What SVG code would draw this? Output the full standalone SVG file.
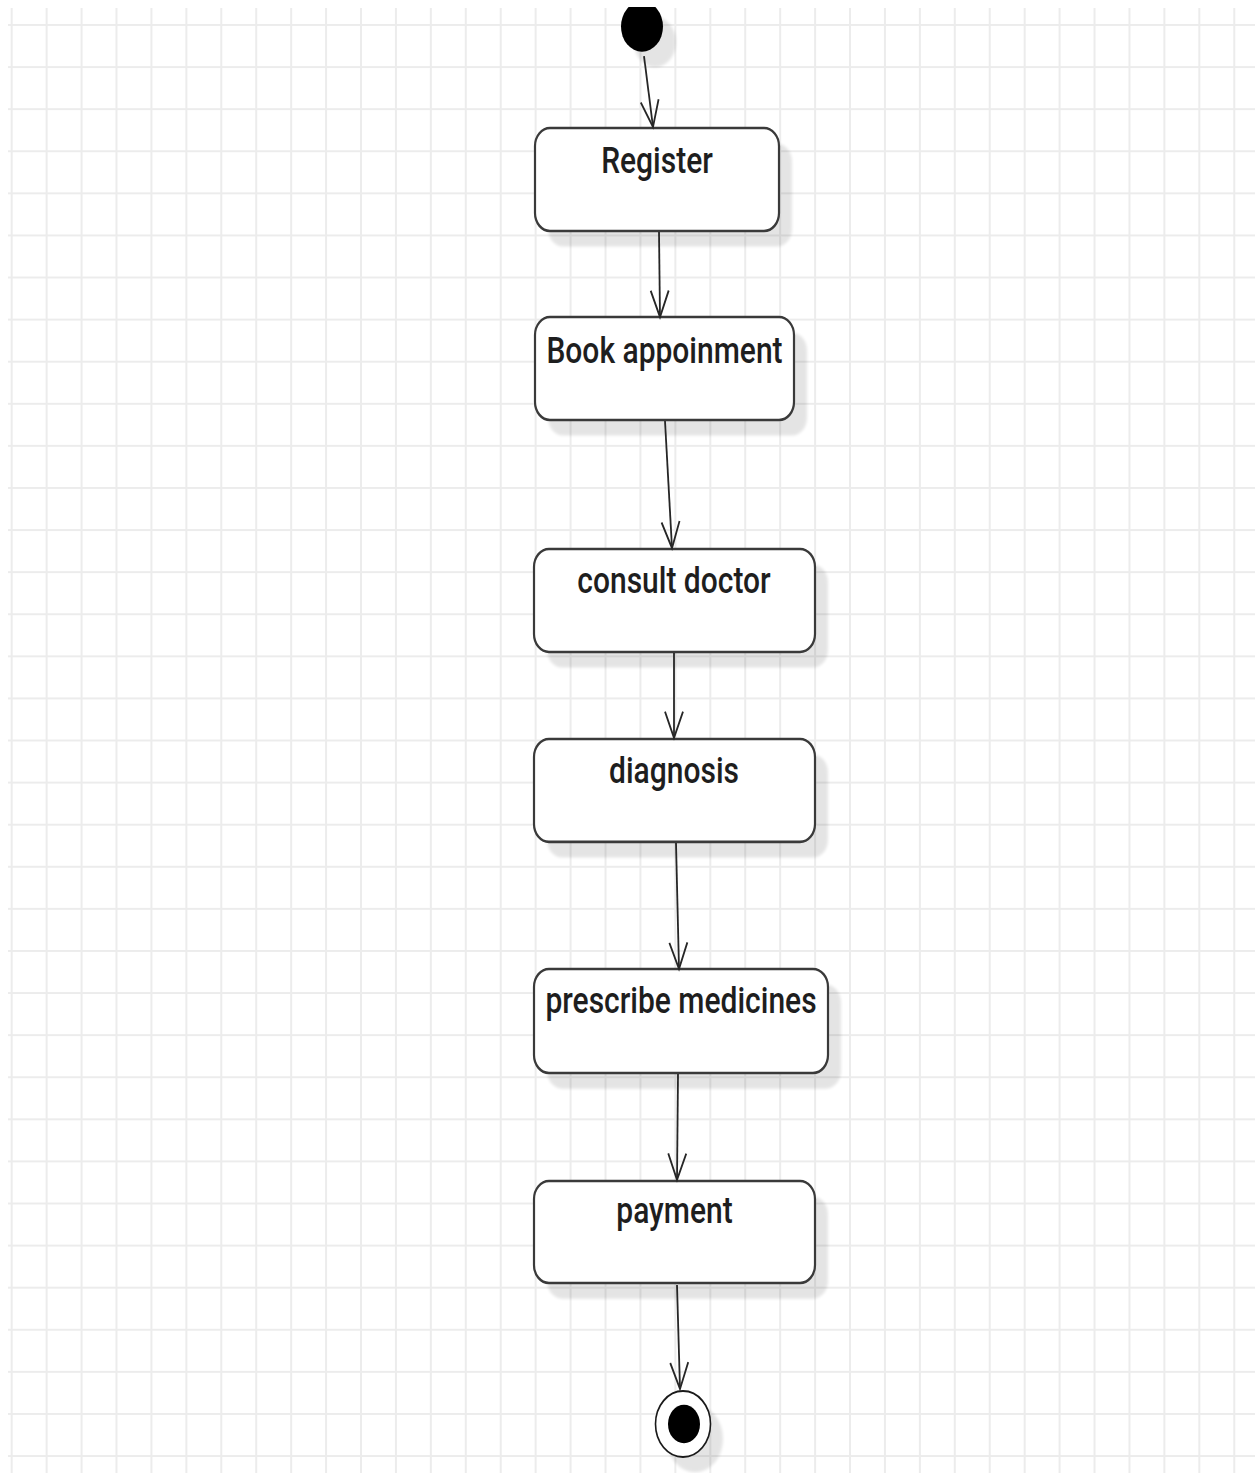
<svg xmlns="http://www.w3.org/2000/svg" width="1255" height="1473" viewBox="0 0 1255 1473">
  <defs>
    <style>
      .node { fill: #ffffff; stroke: #3a3a3a; stroke-width: 2.2; }
      .shadow { fill: #000000; opacity: 0.1; filter: url(#soft); }
      .label { font-family: Roboto, "Liberation Sans", sans-serif; font-size: 30px; font-weight: 500; fill: #1e1e1e; text-anchor: middle; }
      .flow { fill: none; stroke: #262626; stroke-width: 1.8; marker-end: url(#open-arrow); }
    </style>
    <pattern id="grid" patternUnits="userSpaceOnUse" x="10.7" y="24" width="34.93" height="42.09">
      <path d="M1,0 V42.09 M0,1 H34.93" fill="none" stroke="#ececec" stroke-width="2"/>
    </pattern>
    <filter id="soft" x="-20%" y="-20%" width="140%" height="140%">
      <feGaussianBlur stdDeviation="1.5"/>
    </filter>
    <marker id="open-arrow" markerUnits="userSpaceOnUse" orient="auto" refX="0" refY="0" markerWidth="40" markerHeight="40" overflow="visible">
      <path d="M-22,-9 L0,0 L-22,9" fill="none" stroke="#262626" stroke-width="1.8"/>
    </marker>
    <clipPath id="page">
      <rect x="0" y="7" width="1255" height="1466"/>
    </clipPath>
  </defs>

  <rect width="1255" height="1473" fill="#ffffff"/>
  <rect x="8" y="8" width="1247" height="1465" fill="url(#grid)"/>

  <g clip-path="url(#page)">
    <!-- drawing stretched vertically by 1.2 -->
    <g transform="scale(1,1.2)">
      <g id="start">
        <circle class="shadow" cx="655" cy="35" r="21"/>
        <circle cx="642" cy="22.1" r="21" fill="#000000"/>
      </g>

      <g id="register">
        <rect class="shadow" x="548" y="119.7" width="244" height="85.8" rx="15"/>
        <rect class="node" x="535" y="106.7" width="244" height="85.8" rx="15"/>
        <text class="label" x="657" y="144.2">Register</text>
      </g>

      <g id="book-appoinment">
        <rect class="shadow" x="548" y="277.2" width="259" height="85.8" rx="15"/>
        <rect class="node" x="535" y="264.2" width="259" height="85.8" rx="15"/>
        <text class="label" x="664.5" y="302.5">Book appoinment</text>
      </g>

      <g id="consult-doctor">
        <rect class="shadow" x="547" y="470.5" width="281" height="85.8" rx="15"/>
        <rect class="node" x="534" y="457.5" width="281" height="85.8" rx="15"/>
        <text class="label" x="674" y="494.2">consult doctor</text>
      </g>

      <g id="diagnosis">
        <rect class="shadow" x="547" y="628.8" width="281" height="85.8" rx="15"/>
        <rect class="node" x="534" y="615.8" width="281" height="85.8" rx="15"/>
        <text class="label" x="674" y="652.5">diagnosis</text>
      </g>

      <g id="prescribe-medicines">
        <rect class="shadow" x="547" y="820.5" width="294" height="86.7" rx="15"/>
        <rect class="node" x="534" y="807.5" width="294" height="86.7" rx="15"/>
        <text class="label" x="681" y="844.2">prescribe medicines</text>
      </g>

      <g id="payment">
        <rect class="shadow" x="547" y="997.2" width="281" height="85" rx="15"/>
        <rect class="node" x="534" y="984.2" width="281" height="85" rx="15"/>
        <text class="label" x="674.5" y="1019.2">payment</text>
      </g>

      <g id="end">
        <circle class="shadow" cx="695" cy="1199" r="28"/>
        <circle cx="683" cy="1186.7" r="27.5" fill="#ffffff" stroke="#1a1a1a" stroke-width="1.6"/>
        <circle cx="684" cy="1186.7" r="16" fill="#000000"/>
      </g>

      <g id="connectors">
        <path class="flow" d="M644,46.7 L653,105.8"/>
        <path class="flow" d="M659,193.3 L660,264.2"/>
        <path class="flow" d="M665,350.8 L672,456.7"/>
        <path class="flow" d="M674,544.2 L674,615"/>
        <path class="flow" d="M676,702.5 L679,807.5"/>
        <path class="flow" d="M678,895 L677,983.3"/>
        <path class="flow" d="M677,1070.8 L680,1157.5"/>
      </g>
    </g>
  </g>
</svg>
